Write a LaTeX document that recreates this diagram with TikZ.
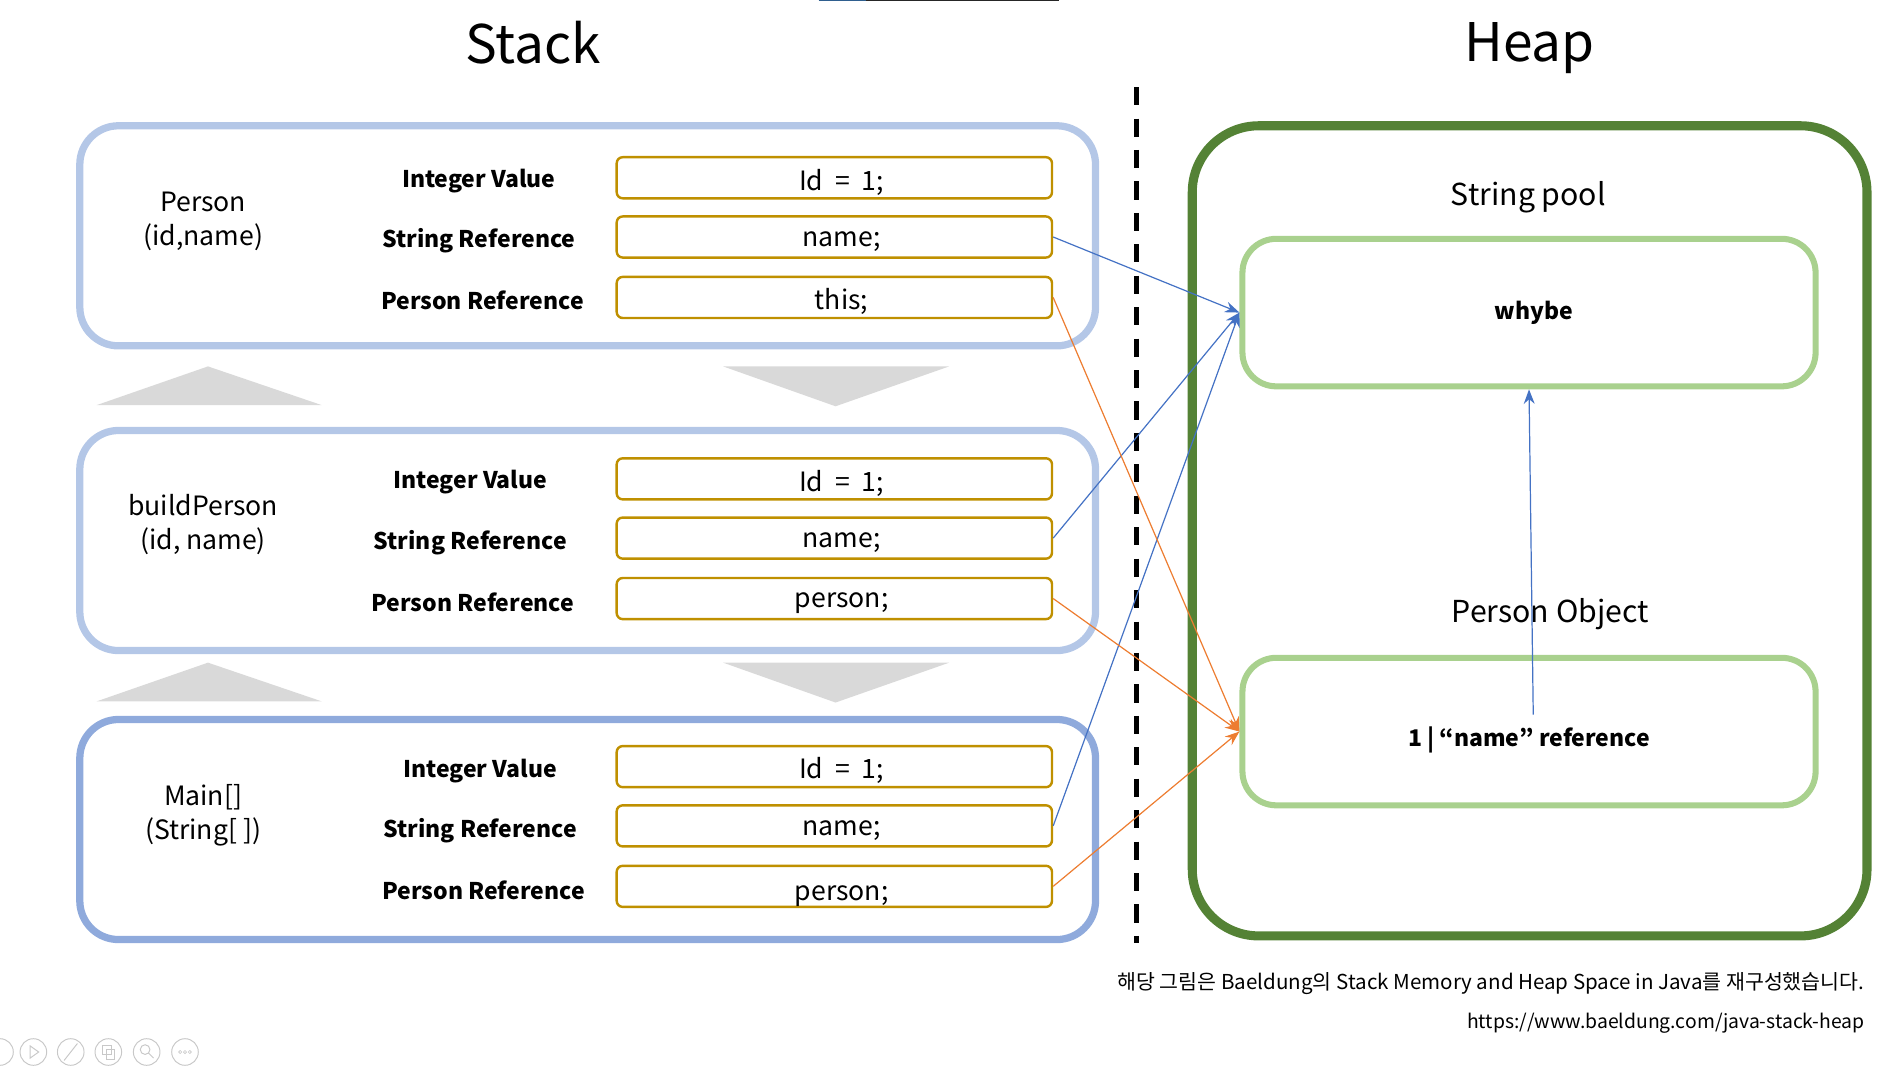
\documentclass[tikz,border=0pt]{standalone}
\usepackage{fontspec}
\setmainfont{Noto Sans CJK KR}
\usepackage{tikz}
\usetikzlibrary{arrows.meta}
\definecolor{framelight}{HTML}{B4C7E7}
\definecolor{framemain}{HTML}{8FAADC}
\definecolor{gold}{HTML}{BF9000}
\definecolor{heapgreen}{HTML}{548235}
\definecolor{poolgreen}{HTML}{A9D18E}
\definecolor{refblue}{HTML}{4472C4}
\definecolor{reforange}{HTML}{ED7D31}
\definecolor{tri}{HTML}{D9D9D9}
\definecolor{barblue}{HTML}{2F5F8F}
\definecolor{icongray}{HTML}{C8C8C8}
\newcommand\lowered[2]{\raisebox{-#1}[\height][\depth]{#2}}

\begin{document}
\begin{tikzpicture}[x=1pt,y=-1pt,
	title/.style={font=\fontsize{44}{50}\selectfont},
	frame/.style={draw=framelight,line width=6pt,rounded corners=32pt,minimum width=840pt,minimum height=182pt,inner sep=0pt},
	fname/.style={align=center,font=\fontsize{22}{28}\selectfont},
	kind/.style={font=\bfseries\fontsize{19}{22}\selectfont},
	valbox/.style={draw=gold,line width=2pt,rounded corners=5pt,minimum width=360pt,minimum height=34pt,inner sep=0pt,font=\fontsize{22}{26}\selectfont},
	sub/.style={font=\fontsize{25}{30}\selectfont},
	poolbox/.style={draw=poolgreen,line width=5pt,rounded corners=28pt,minimum width=474pt,minimum height=122pt,inner sep=0pt,font=\bfseries\fontsize{19}{22}\selectfont},
	ref/.style={line width=1pt,-{Stealth[length=12pt,width=9pt]}},
	foot/.style={anchor=east,inner sep=0pt,font=\fontsize{16}{19}\selectfont},
	icon/.style={draw=icongray,line width=.8pt}]
	\useasboundingbox (0,0) rectangle (1568,887);
	\draw[line width=1pt,barblue] (677,.5)--(716,.5);%bar
	\draw[line width=1pt,black!85] (716,.5)--(876,.5);
	\node[title] (stack) at (441,35) {Stack};
	\node[title] (heap) at (1265,40) {Heap};
	\draw[line width=4pt,dash pattern=on 15pt off 11pt] (940,72)--(940,780);%stack|heap
	% stack frames
	\node[frame] (F1) at (486,195) {};
	\node[frame] (F2) at (486,447) {};
	\node[frame,draw=framemain] (F3) at (486,686) {};
	\foreach \y in {303,548} {
		\fill[tri] (80,\y+32)--(266,\y+32)--(172,\y)--cycle;
		\fill[tri] (598,\y)--(785,\y)--(691,\y+33)--cycle;
	}
	\node[fname] (n1) at (168,183) {Person\\(id,name)};
	\node[fname] (n2) at (168,434) {buildPerson\\(id,~name)};
	\node[fname] (n3) at (168,674) {Main[]\\(String[ ])};
	\foreach \n/\x/\y/\t in {kP1/396/150/Integer Value,kP2/396/199/String Reference,kP3/399/248/Person Reference,
		kB1/389/399/Integer Value,kB2/389/449/String Reference,kB3/391/498/Person Reference,
		kM1/397/638/Integer Value,kM2/397/687/String Reference,kM3/400/736/Person Reference}
		\node[kind] (\n) at (\x,\y) {\t};
	\foreach \n/\y/\t in {P1/147/{Id~ = ~1;},P2/196/name;,P3/246/this;,
		B1/396/{Id~ = ~1;},B2/445/name;,B3/495/person;,
		M1/634/{Id~ = ~1;},M2/683/name;,M3/733/\lowered{5pt}{person;}}
		\node[valbox] (\n) at (690,\y) {\hspace*{12pt}\lowered{3.5pt}{\t}};
	% heap
	\node[draw=heapgreen,line width=7.5pt,rounded corners=55pt,minimum width=558pt,minimum height=670pt] (hp) at (1265,439) {};
	\node[sub] (spool) at (1264,163) {String pool};
	\node[poolbox] (pool) at (1264.5,258.5) {\hspace*{8pt}whybe};
	\node[sub] (pobj) at (1282,508) {Person Object};
	\node[poolbox] (obj) at (1264.5,605) {\lowered{7pt}{1 | “name” reference}};
	\coordinate (up) at (1268,591);
	\foreach \s in {P2,B2,M2} \draw[ref,refblue] (\s.east)--(pool.west);
	\foreach \s in {P3,B3,M3} \draw[ref,reforange] (\s.east)--(obj.west);
	\draw[ref,refblue] (up)--(pool.south);
	\node[foot,font=\fontsize{17}{20}\selectfont] (note) at (1542,813) {해당 그림은 Baeldung의 Stack Memory and Heap Space in Java를 재구성했습니다.};
	\node[foot] (url) at (1542,846) {https://www.baeldung.com/java-stack-heap};
	% viewer icons
	\foreach \x in {0,27.6,58.5,89.6,121.3,153} \draw[icon] (\x,870) circle[radius=11pt];
	\draw[icon] (25,865)--(25,875)--(32,870)--cycle;
	\draw[icon] (53,877)--(64,863);
	\draw[icon] (85,865) rectangle (92,872) (88,868) rectangle (95,876);
	\draw[icon] (120,868) circle[radius=4pt] (123,871)--(127,875);
	\foreach \x in {149,153,157} \draw[icon,line width=.5pt] (\x,870) circle[radius=1.3pt];
\end{tikzpicture}
\end{document}
